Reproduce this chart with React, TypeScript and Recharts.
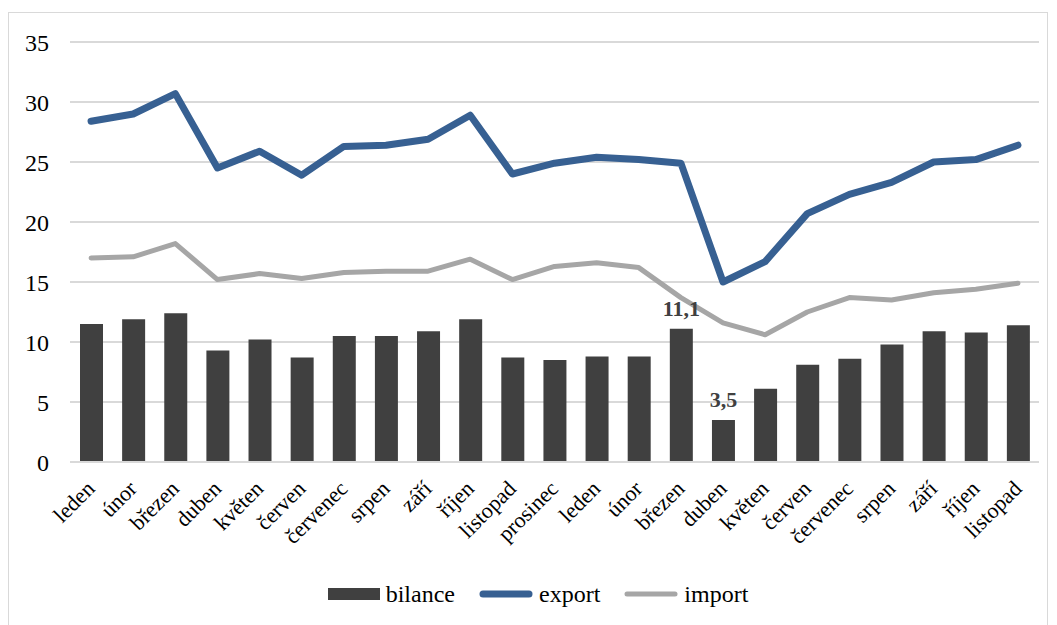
import { ComposedChart, Bar, Line, XAxis, YAxis, CartesianGrid, Legend, LabelList } from 'recharts';

const months = [
  "leden", "únor", "březen", "duben", "květen", "červen", "červenec", "srpen", "září", "říjen", "listopad", "prosinec",
  "leden", "únor", "březen", "duben", "květen", "červen", "červenec", "srpen", "září", "říjen", "listopad"
];
const bilance = [11.5, 11.9, 12.4, 9.3, 10.2, 8.7, 10.5, 10.5, 10.9, 11.9, 8.7, 8.5, 8.8, 8.8, 11.1, 3.5, 6.1, 8.1, 8.6, 9.8, 10.9, 10.8, 11.4];
const exportVals = [28.4, 29.0, 30.7, 24.5, 25.9, 23.9, 26.3, 26.4, 26.9, 28.9, 24.0, 24.9, 25.4, 25.2, 24.9, 15.0, 16.7, 20.7, 22.3, 23.3, 25.0, 25.2, 26.4];
const importVals = [17.0, 17.1, 18.2, 15.2, 15.7, 15.3, 15.8, 15.9, 15.9, 16.9, 15.2, 16.3, 16.6, 16.2, 13.7, 11.6, 10.6, 12.5, 13.7, 13.5, 14.1, 14.4, 14.9];
const yTicks = [0, 5, 10, 15, 20, 25, 30, 35];
// only these bars carry a value label
const labeledBars = [14, 15];

const data = months.map((m, i) => ({
  month: m,
  bilance: bilance[i],
  export: exportVals[i],
  import: importVals[i],
}));

const FONT = '"Liberation Serif", "Times New Roman", Tinos, "DejaVu Serif", serif';
const BAR_COLOR = '#404040';
const EXPORT_COLOR = '#376092';
const IMPORT_COLOR = '#A6A6A6';
const GRID_COLOR = '#D9D9D9';

const MonthTick = (props: any) => {
  const { x, y, payload } = props;
  return (
    <g transform={`translate(${x},${y})`}>
      <text
        x={0}
        y={0}
        transform="translate(5,22) rotate(-45)"
        textAnchor="end"
        fontFamily={FONT}
        fontSize={22}
        fill="#000"
      >
        {payload.value}
      </text>
    </g>
  );
};

const BarLabel = (props: any) => {
  const { x, y, width, value, index } = props;
  if (!labeledBars.includes(index)) return null;
  return (
    <text
      x={x + width / 2}
      y={y - 13}
      textAnchor="middle"
      fontFamily={FONT}
      fontSize={22}
      fontWeight="bold"
      fill={BAR_COLOR}
    >
      {Number(value).toFixed(1).replace('.', ',')}
    </text>
  );
};

const LegendBox = () => {
  const item = { display: 'flex', alignItems: 'center', marginRight: 24 } as const;
  const txt = { fontFamily: FONT, fontSize: 24, color: '#000', marginLeft: 6 } as const;
  return (
    <div style={{ height: 30, display: 'flex', justifyContent: 'center', alignItems: 'center', paddingLeft: 52 }}>
      <div style={item}>
        <div style={{ width: 52, height: 12, background: BAR_COLOR }} />
        <span style={txt}>bilance</span>
      </div>
      <div style={item}>
        <svg width={54} height={10}>
          <line x1={4} y1={5} x2={50} y2={5} stroke={EXPORT_COLOR} strokeWidth={7} strokeLinecap="round" />
        </svg>
        <span style={txt}>export</span>
      </div>
      <div style={item}>
        <svg width={54} height={10}>
          <line x1={3} y1={5} x2={51} y2={5} stroke={IMPORT_COLOR} strokeWidth={5} strokeLinecap="round" />
        </svg>
        <span style={txt}>import</span>
      </div>
    </div>
  );
};

export default function App() {
  return (
    <div style={{ paddingTop: 4 }}>
      <div style={{ width: 1038, height: 612, border: '1px solid #D9D9D9', background: '#fff' }}>
        <ComposedChart
          width={1038}
          height={612}
          data={data}
          margin={{ top: 29, right: 8, left: 0, bottom: 16 }}
        >
          <CartesianGrid vertical={false} stroke={GRID_COLOR} strokeWidth={2} />
          <XAxis
            dataKey="month"
            interval={0}
            height={117}
            tickLine={false}
            axisLine={{ stroke: GRID_COLOR, strokeWidth: 2 }}
            tick={<MonthTick />}
            tickMargin={0}
          />
          <YAxis
            width={61}
            domain={[0, 35]}
            ticks={yTicks}
            axisLine={false}
            tickLine={false}
            tickMargin={15}
            tick={{ fontFamily: FONT, fontSize: 24, fill: '#000' }}
          />
          <Legend verticalAlign="bottom" content={<LegendBox />} />
          <Bar dataKey="bilance" fill={BAR_COLOR} barSize={23} isAnimationActive={false}>
            <LabelList dataKey="bilance" content={<BarLabel />} />
          </Bar>
          <Line
            dataKey="export"
            stroke={EXPORT_COLOR}
            strokeWidth={7}
            dot={false}
            strokeLinecap="round"
            strokeLinejoin="round"
            isAnimationActive={false}
          />
          <Line
            dataKey="import"
            stroke={IMPORT_COLOR}
            strokeWidth={5}
            dot={false}
            strokeLinecap="round"
            strokeLinejoin="round"
            isAnimationActive={false}
          />
        </ComposedChart>
      </div>
    </div>
  );
}
